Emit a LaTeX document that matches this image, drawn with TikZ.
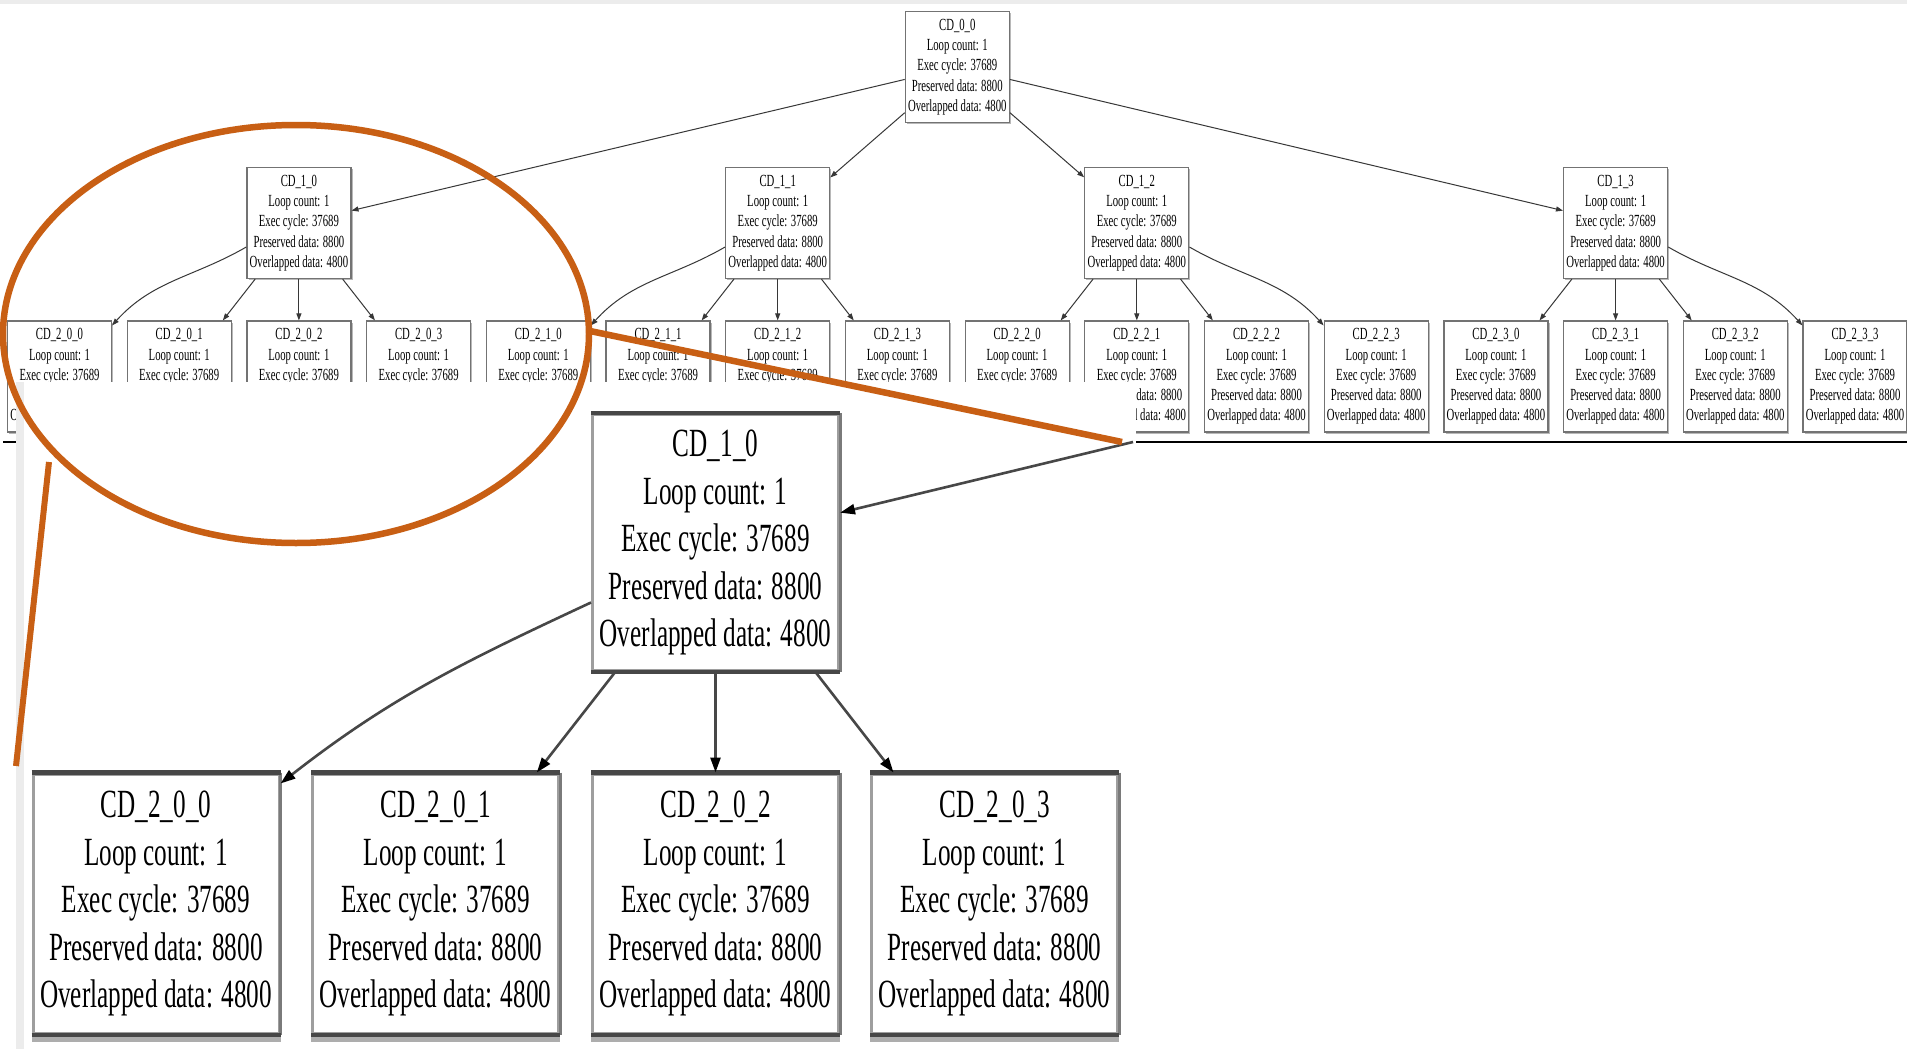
\documentclass[tikz,border=0pt]{standalone}
\usepackage{fontspec}
\setmainfont{Liberation Serif}[FakeStretch=0.63]
\usetikzlibrary{arrows.meta,shadows}
\definecolor{hilite}{RGB}{200,95,20}
\definecolor{edgegray}{RGB}{55,55,55}
\definecolor{stripgray}{RGB}{236,236,236}
\newcommand\cdlines[1]{CD\_#1\\Loop count: 1\\Exec cycle: 37689\\Preserved data: 8800\\Overlapped data: 4800}

\begin{document}
\begin{tikzpicture}[x=1pt,y=1pt,
  smallbox/.style={draw=black!55, line width=1.2pt, fill=white, align=center,
    inner sep=0pt, minimum width=104pt, minimum height=111pt,
    font=\fontsize{17}{20.25}\selectfont,
    drop shadow={shadow xshift=1.6pt, shadow yshift=-1.6pt, fill=black!28, opacity=1}},
  bigbox/.style={draw=black!38, line width=3pt, fill=white, align=center,
    inner sep=0pt, minimum width=246pt, minimum height=256pt,
    font=\fontsize{40}{47.5}\selectfont},
  link/.style={draw=edgegray, line width=1pt, -{Triangle[length=7pt,width=5pt]}},
  biglink/.style={draw=black!72, line width=2.6pt, -{Triangle[length=15pt,width=10pt,color=black]}},
  zoomline/.style={draw=hilite, line width=6.5pt}
]
\useasboundingbox (0,0) rectangle (1907,-1049);
\clip (0,0) rectangle (1907,-1049);
\fill[white] (0,0) rectangle (1907,-1049);
\fill[stripgray] (0,0) rectangle (1907,-4.5);

% ---------- full tree ----------
\node[smallbox] (n0) at (957.3,-67) {\cdlines{0\_0}};
\foreach \p/\c in {0/2,1/6,2/9,3/13}
  \node[smallbox] (n1\p) at ({59.5+119.7*\c},-223) {\cdlines{1\_\p}};
\foreach \i in {0,...,15}{
  \pgfmathtruncatemacro\p{int(\i/4)}
  \pgfmathtruncatemacro\k{mod(\i,4)}
  \node[smallbox] (n2\p\k) at ({59.5+119.7*\i},-376.5) {\cdlines{2\_\p\_\k}};
}
\foreach \p in {0,...,3} \draw[link] (n0) -- (n1\p);
\foreach \p/\k in {0/1,0/2,0/3,1/1,1/2,1/3,2/0,2/1,2/2,3/0,3/1,3/2}
  \draw[link] (n1\p) -- (n2\p\k);
\foreach \p in {0,1}
  \draw[link] ([yshift=-24pt]n1\p.west) to[out=210,in=48] ([yshift=-5pt]n2\p0.north east);
\foreach \p in {2,3}
  \draw[link] ([yshift=-24pt]n1\p.east) to[out=-30,in=132] ([yshift=-5pt]n2\p3.north west);

% page edge under the tree
\draw[black, line width=2pt] (3,-442) -- (1907,-442);

% ---------- enlarged panel ----------
\fill[white] (16,-382) rectangle (1136,-1049);
\fill[stripgray] (16,-382) rectangle (23.5,-1049);

\node[bigbox] (m10) at (715.5,-542.5) {\cdlines{1\_0}};
\foreach \k/\x in {0/156,1/435.5,2/715.5,3/994.5}
  \node[bigbox, minimum height=259pt] (m20\k) at (\x,-903.5) {\cdlines{2\_0\_\k}};

\foreach \n in {m10,m200,m201,m202,m203}{
  \draw[black!52, line width=3pt] (\n.north east) -- (\n.south east);
  \draw[black!72, line width=4.5pt] (\n.north west) -- (\n.north east);
  \draw[black!72, line width=4pt] (\n.south west) -- (\n.south east);
}
\foreach \n in {m200,m201,m202,m203}
  \fill[black!32] ([yshift=-2pt]\n.south west) rectangle ([yshift=-7pt]\n.south east);

\coordinate (feed) at (1133,-442);
\draw[biglink] (feed) -- (m10);
\draw[biglink] ([yshift=-60pt]m10.west) to[out=205,in=38] ([yshift=-11pt]m200.north east);
\foreach \k in {1,2,3} \draw[biglink] (m10) -- (m20\k);

% ---------- highlight ----------
\draw[zoomline] (296,-334) ellipse [x radius=293pt, y radius=209pt];
\coordinate (zoomA) at (590,-331);
\coordinate (zoomB) at (1122,-442);
\coordinate (zoomC) at (49,-462);
\coordinate (zoomD) at (16,-766);
\draw[zoomline] (zoomA) -- (zoomB);
\draw[zoomline, line width=6pt] (zoomC) -- (zoomD);
\end{tikzpicture}
\end{document}
